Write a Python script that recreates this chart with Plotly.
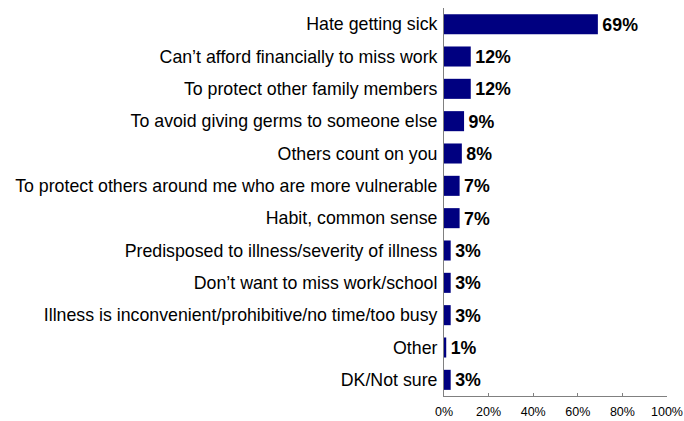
import plotly.graph_objects as go

# Reasons given, top to bottom, with share of respondents (%)
reasons = [
    "Hate getting sick",
    "Can\u2019t afford financially to miss work",
    "To protect other family members",
    "To avoid giving germs to someone else",
    "Others count on you",
    "To protect others around me who are more vulnerable",
    "Habit, common sense",
    "Predisposed to illness/severity of illness",
    "Don\u2019t want to miss work/school",
    "Illness is inconvenient/prohibitive/no time/too busy",
    "Other",
    "DK/Not sure",
]
shares = [69, 12, 12, 9, 8, 7, 7, 3, 3, 3, 1, 3]
x_ticks = [0, 20, 40, 60, 80, 100]
x_tick_labels = ["0%", "20%", "40%", "60%", "80%", "100%"]

FONT = "Liberation Sans, Arial, sans-serif"

fig = go.Figure(
    go.Bar(
        x=shares,
        y=reasons,
        orientation="h",
        marker=dict(color="#000080", line=dict(width=0)),
        # hair space gives the value labels a little extra breathing room
        text=[f"\u200a{v}%" for v in shares],
        textposition="outside",
        textfont=dict(family=FONT, size=19.5, color="#000000", weight="bold"),
        cliponaxis=False,
    )
)

fig.update_layout(
    width=684,
    height=421,
    margin=dict(l=444, r=17, t=8, b=25),
    paper_bgcolor="white",
    plot_bgcolor="white",
    bargap=0.38,
    showlegend=False,
    font=dict(family=FONT, color="#000000"),
)

fig.update_xaxes(
    range=[0, 100],
    tickvals=x_ticks,
    ticktext=x_tick_labels,
    tickfont=dict(family=FONT, size=12.5, color="#000000"),
    showgrid=False,
    zeroline=False,
    showline=True,
    linecolor="#808080",
    linewidth=1,
    ticks="inside",
    ticklen=3,
    tickcolor="#808080",
    ticklabelstandoff=4,
    automargin=False,
)

fig.update_yaxes(
    categoryorder="array",
    categoryarray=reasons,
    autorange="reversed",
    tickfont=dict(family=FONT, size=17.75, color="#000000"),
    showgrid=False,
    zeroline=False,
    showline=True,
    linecolor="#808080",
    linewidth=1,
    ticks="",
    ticklabelstandoff=2,
    automargin=False,
)

fig.write_html("out.html")
